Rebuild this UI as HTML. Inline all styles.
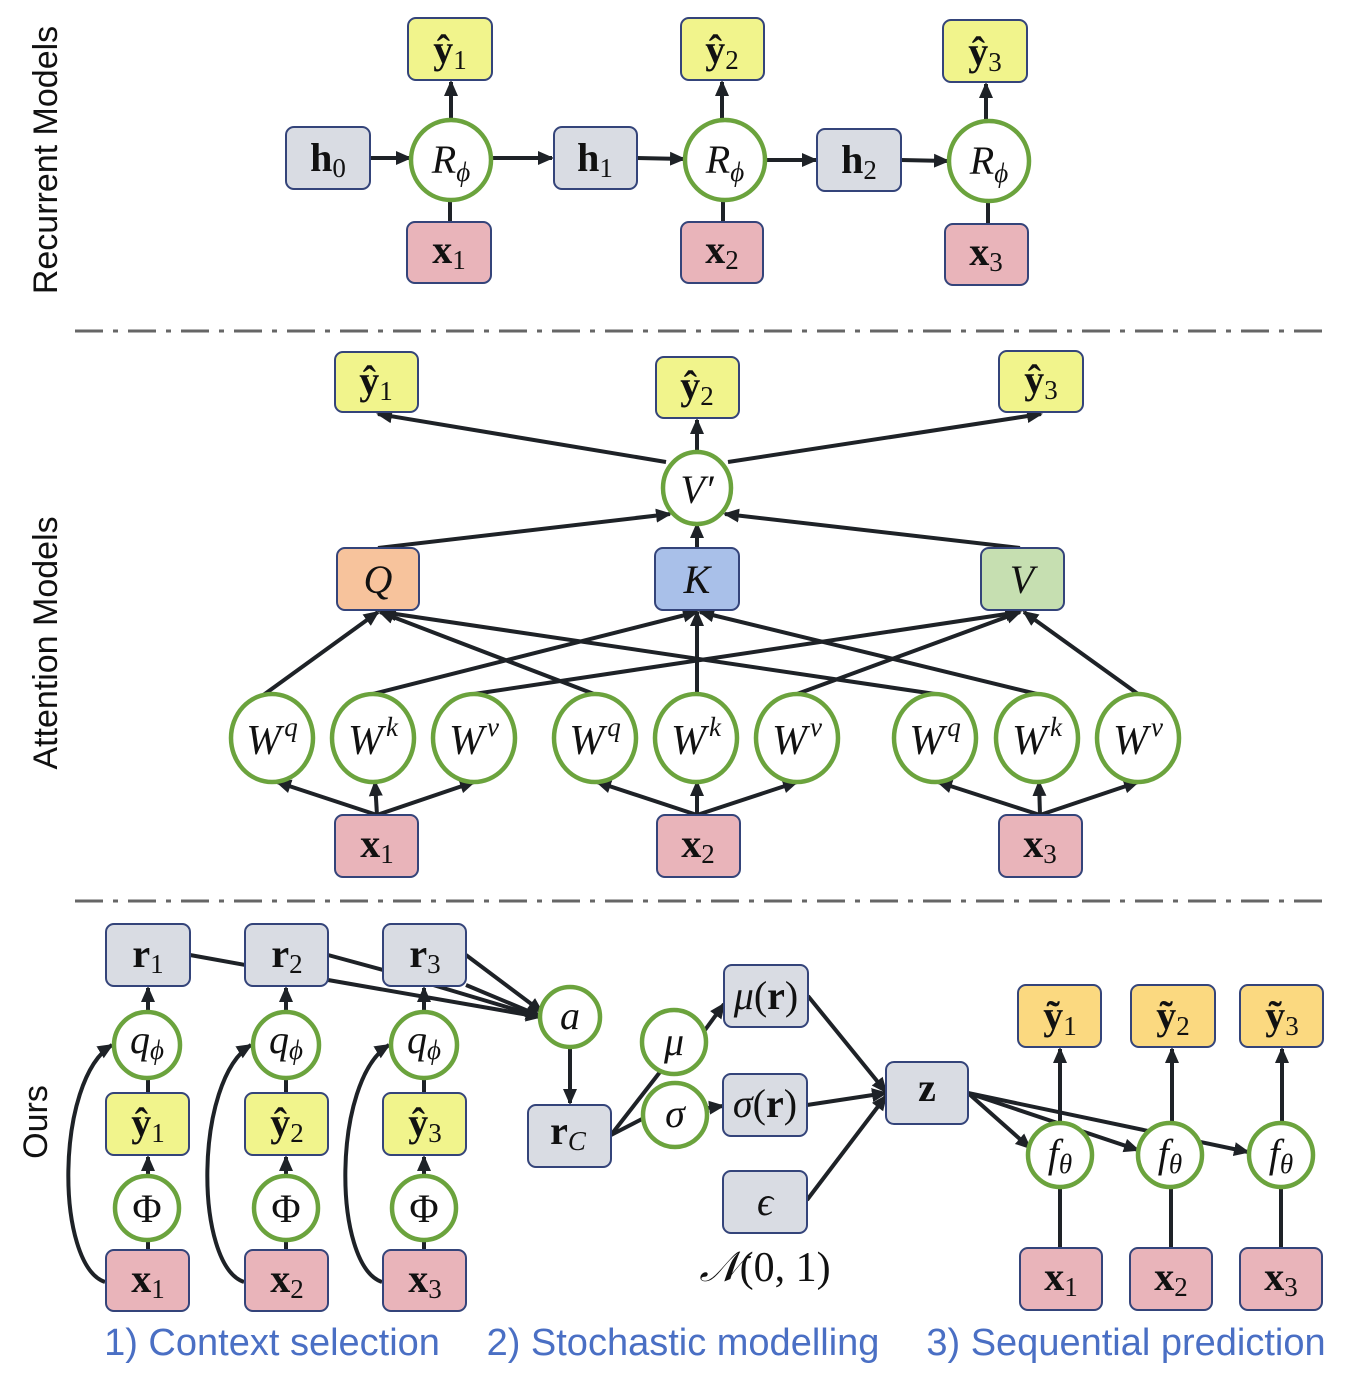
<!DOCTYPE html>
<html><head><meta charset="utf-8"><style>
html,body{margin:0;padding:0;background:#fff}
svg{display:block}
.m{font-family:"Liberation Serif","DejaVu Serif",serif;font-size:40px;fill:#111}
.b{font-weight:bold}
.i{font-style:italic}
.s{font-size:27px;font-weight:normal;font-style:normal}
.si{font-size:27px;font-weight:normal;font-style:italic}
.lab{font-family:"Liberation Sans","DejaVu Sans",sans-serif;font-size:34px;fill:#111}
.cap{font-family:"Liberation Sans","DejaVu Sans",sans-serif;font-size:38px;fill:#4a6fc4}
</style></head><body>
<svg width="1349" height="1376" viewBox="0 0 1349 1376" xmlns="http://www.w3.org/2000/svg">
<defs>
<marker id="A" markerWidth="16" markerHeight="16" refX="14" refY="8" orient="auto" markerUnits="userSpaceOnUse" viewBox="0 0 16 16">
<path d="M0,1 L16,8 L0,15 z" fill="#1e2227"/></marker>
</defs>
<style>
.l{stroke:#1e2227;stroke-width:4;fill:none}
.la{stroke:#1e2227;stroke-width:4;fill:none;marker-end:url(#A)}
.bx{stroke:#34447a;stroke-width:2}
.g{fill:#d9dce3}.y{fill:#f1f48c}.p{fill:#e9b4ba}.t{fill:#fbd980}
.c{fill:#fff;stroke:#6ba33d;stroke-width:4.5}
</style>

<text class="lab" transform="translate(57,160) rotate(-90)" text-anchor="middle">Recurrent Models</text>
<text class="lab" transform="translate(57,643) rotate(-90)" text-anchor="middle">Attention Models</text>
<text class="lab" transform="translate(47,1122) rotate(-90)" text-anchor="middle">Ours</text>

<line x1="75" y1="331" x2="1325" y2="331" stroke="#666" stroke-width="3" stroke-dasharray="28,10,5,10"/>
<line x1="75" y1="901" x2="1325" y2="901" stroke="#666" stroke-width="3" stroke-dasharray="28,10,5,10"/>

<!-- Recurrent -->
<line class="la" x1="370" y1="158" x2="410" y2="158"/>
<line class="la" x1="491" y1="158" x2="552" y2="158"/>
<line class="la" x1="637" y1="158" x2="684" y2="159"/>
<line class="la" x1="765" y1="160" x2="816" y2="160"/>
<line class="la" x1="901" y1="160" x2="948" y2="161"/>
<line class="la" x1="451" y1="118" x2="451" y2="82"/>
<line class="la" x1="722" y1="118" x2="722" y2="82"/>
<line class="la" x1="986" y1="119" x2="986" y2="84"/>
<line class="l" x1="450" y1="200" x2="450" y2="222"/>
<line class="l" x1="723" y1="200" x2="723" y2="222"/>
<line class="l" x1="988" y1="200" x2="988" y2="224"/>

<rect class="bx g" x="286" y="127" width="84" height="62" rx="8"/>
<rect class="bx g" x="554" y="127" width="83" height="62" rx="8"/>
<rect class="bx g" x="817" y="129" width="84" height="62" rx="8"/>
<rect class="bx y" x="408" y="18" width="84" height="62" rx="8"/>
<rect class="bx y" x="681" y="18" width="83" height="62" rx="8"/>
<rect class="bx y" x="943" y="20" width="84" height="62" rx="8"/>
<rect class="bx p" x="407" y="222" width="84" height="61" rx="8"/>
<rect class="bx p" x="681" y="222" width="82" height="61" rx="8"/>
<rect class="bx p" x="945" y="224" width="83" height="61" rx="8"/>
<circle class="c" cx="451" cy="160" r="40"/>
<circle class="c" cx="725" cy="160" r="40"/>
<circle class="c" cx="989" cy="161" r="40"/>

<text class="m b" x="328" y="171" text-anchor="middle">h<tspan class="s" dy="6">0</tspan></text>
<text class="m b" x="595" y="171" text-anchor="middle">h<tspan class="s" dy="6">1</tspan></text>
<text class="m b" x="859" y="173" text-anchor="middle">h<tspan class="s" dy="6">2</tspan></text>
<text class="m b" x="450" y="63" text-anchor="middle">ŷ<tspan class="s" dy="6">1</tspan></text>
<text class="m b" x="722" y="63" text-anchor="middle">ŷ<tspan class="s" dy="6">2</tspan></text>
<text class="m b" x="985" y="65" text-anchor="middle">ŷ<tspan class="s" dy="6">3</tspan></text>
<text class="m b" x="449" y="263" text-anchor="middle">x<tspan class="s" dy="6">1</tspan></text>
<text class="m b" x="722" y="263" text-anchor="middle">x<tspan class="s" dy="6">2</tspan></text>
<text class="m b" x="986" y="265" text-anchor="middle">x<tspan class="s" dy="6">3</tspan></text>
<text class="m i" x="451" y="173" text-anchor="middle">R<tspan class="si" dy="8">ϕ</tspan></text>
<text class="m i" x="725" y="173" text-anchor="middle">R<tspan class="si" dy="8">ϕ</tspan></text>
<text class="m i" x="989" y="174" text-anchor="middle">R<tspan class="si" dy="8">ϕ</tspan></text>

<!-- Attention -->
<line class="la" x1="666" y1="462" x2="378" y2="414"/>
<line class="la" x1="697" y1="452" x2="697" y2="420"/>
<line class="la" x1="728" y1="462" x2="1041" y2="414"/>
<line class="la" x1="378" y1="548" x2="670" y2="514"/>
<line class="la" x1="697" y1="548" x2="697" y2="524"/>
<line class="la" x1="1020" y1="548" x2="725" y2="514"/>

<line class="la" x1="262" y1="696" x2="378" y2="612"/>
<line class="la" x1="373" y1="694" x2="697" y2="612"/>
<line class="la" x1="474" y1="694" x2="1020" y2="612"/>
<line class="la" x1="594" y1="694" x2="380" y2="612"/>
<line class="la" x1="697" y1="694" x2="697" y2="612"/>
<line class="la" x1="797" y1="694" x2="1020" y2="612"/>
<line class="la" x1="935" y1="694" x2="382" y2="612"/>
<line class="la" x1="1037" y1="694" x2="700" y2="612"/>
<line class="la" x1="1138" y1="694" x2="1024" y2="612"/>

<line class="la" x1="377" y1="815" x2="277" y2="782"/>
<line class="la" x1="377" y1="815" x2="375" y2="782"/>
<line class="la" x1="377" y1="815" x2="474" y2="782"/>
<line class="la" x1="697" y1="815" x2="597" y2="782"/>
<line class="la" x1="697" y1="815" x2="697" y2="782"/>
<line class="la" x1="697" y1="815" x2="797" y2="782"/>
<line class="la" x1="1040" y1="815" x2="938" y2="782"/>
<line class="la" x1="1040" y1="815" x2="1039" y2="782"/>
<line class="la" x1="1040" y1="815" x2="1138" y2="782"/>

<rect class="bx y" x="335" y="352" width="83" height="60" rx="8"/>
<rect class="bx y" x="656" y="357" width="83" height="61" rx="8"/>
<rect class="bx y" x="999" y="351" width="84" height="61" rx="8"/>
<ellipse class="c" cx="697" cy="488" rx="34" ry="36"/>
<rect class="bx" style="fill:#f7c39c" x="337" y="548" width="82" height="62" rx="8"/>
<rect class="bx" style="fill:#a9c0e9" x="655" y="548" width="84" height="62" rx="8"/>
<rect class="bx" style="fill:#c6dfb1" x="981" y="548" width="83" height="62" rx="8"/>
<g>
<ellipse class="c" cx="272" cy="738" rx="41" ry="44"/>
<ellipse class="c" cx="373" cy="738" rx="41" ry="44"/>
<ellipse class="c" cx="474" cy="738" rx="41" ry="44"/>
<ellipse class="c" cx="595" cy="738" rx="41" ry="44"/>
<ellipse class="c" cx="696" cy="738" rx="41" ry="44"/>
<ellipse class="c" cx="797" cy="738" rx="41" ry="44"/>
<ellipse class="c" cx="935" cy="738" rx="41" ry="44"/>
<ellipse class="c" cx="1037" cy="738" rx="41" ry="44"/>
<ellipse class="c" cx="1138" cy="738" rx="41" ry="44"/>
</g>
<rect class="bx p" x="335" y="815" width="83" height="62" rx="8"/>
<rect class="bx p" x="657" y="815" width="83" height="62" rx="8"/>
<rect class="bx p" x="999" y="815" width="83" height="62" rx="8"/>

<text class="m b" x="376" y="394" text-anchor="middle">ŷ<tspan class="s" dy="6">1</tspan></text>
<text class="m b" x="697" y="399" text-anchor="middle">ŷ<tspan class="s" dy="6">2</tspan></text>
<text class="m b" x="1041" y="393" text-anchor="middle">ŷ<tspan class="s" dy="6">3</tspan></text>
<text class="m i" x="697" y="503" text-anchor="middle">V′</text>
<text class="m i" x="378" y="593" text-anchor="middle">Q</text>
<text class="m i" x="697" y="593" text-anchor="middle">K</text>
<text class="m i" x="1022" y="593" text-anchor="middle">V</text>
<g class="m i" text-anchor="middle" style="font-size:42px">
<text x="272" y="754">W<tspan class="si" dx="3" dy="-18">q</tspan></text>
<text x="373" y="754">W<tspan class="si" dx="3" dy="-18">k</tspan></text>
<text x="474" y="754">W<tspan class="si" dx="3" dy="-18">v</tspan></text>
<text x="595" y="754">W<tspan class="si" dx="3" dy="-18">q</tspan></text>
<text x="696" y="754">W<tspan class="si" dx="3" dy="-18">k</tspan></text>
<text x="797" y="754">W<tspan class="si" dx="3" dy="-18">v</tspan></text>
<text x="935" y="754">W<tspan class="si" dx="3" dy="-18">q</tspan></text>
<text x="1037" y="754">W<tspan class="si" dx="3" dy="-18">k</tspan></text>
<text x="1138" y="754">W<tspan class="si" dx="3" dy="-18">v</tspan></text>
</g>
<text class="m b" x="377" y="857" text-anchor="middle">x<tspan class="s" dy="6">1</tspan></text>
<text class="m b" x="698" y="857" text-anchor="middle">x<tspan class="s" dy="6">2</tspan></text>
<text class="m b" x="1040" y="857" text-anchor="middle">x<tspan class="s" dy="6">3</tspan></text>

<!-- Ours -->
<line class="l" x1="190" y1="955" x2="328" y2="980"/>
<line class="la" x1="328" y1="980" x2="540" y2="1017"/>
<line class="l" x1="328" y1="955" x2="383" y2="970"/>
<line class="la" x1="383" y1="970" x2="540" y2="1017"/>
<line class="la" x1="466" y1="985" x2="540" y2="1016"/>
<line class="la" x1="466" y1="955" x2="542" y2="1012"/>

<line class="la" x1="148" y1="1012" x2="148" y2="988"/>
<line class="la" x1="286" y1="1012" x2="286" y2="988"/>
<line class="la" x1="424" y1="1012" x2="424" y2="988"/>
<line class="l" x1="148" y1="1078" x2="148" y2="1093"/>
<line class="l" x1="286" y1="1078" x2="286" y2="1093"/>
<line class="l" x1="424" y1="1078" x2="424" y2="1093"/>
<line class="la" x1="148" y1="1176" x2="148" y2="1157"/>
<line class="la" x1="286" y1="1176" x2="286" y2="1157"/>
<line class="la" x1="424" y1="1176" x2="424" y2="1157"/>
<line class="l" x1="148" y1="1240" x2="148" y2="1250"/>
<line class="l" x1="286" y1="1240" x2="286" y2="1250"/>
<line class="l" x1="424" y1="1240" x2="424" y2="1250"/>
<path class="la" d="M105,1282 C55,1265 55,1080 112,1045"/>
<path class="la" d="M244,1282 C194,1265 194,1080 251,1045"/>
<path class="la" d="M382,1282 C332,1265 332,1080 389,1045"/>

<line class="la" x1="570" y1="1048" x2="570" y2="1103"/>
<line class="l" x1="611" y1="1135" x2="660" y2="1072"/>
<line class="l" x1="611" y1="1135" x2="644" y2="1118"/>
<line class="la" x1="705" y1="1030" x2="724" y2="1004"/>
<line class="la" x1="707" y1="1108" x2="723" y2="1106"/>
<line class="la" x1="808" y1="996" x2="886" y2="1092"/>
<line class="la" x1="807" y1="1105" x2="886" y2="1093"/>
<line class="la" x1="807" y1="1200" x2="886" y2="1096"/>

<line class="la" x1="968" y1="1093" x2="1030" y2="1148"/>
<line class="la" x1="968" y1="1093" x2="1138" y2="1150"/>
<line class="la" x1="968" y1="1093" x2="1248" y2="1152"/>
<line class="la" x1="1060" y1="1123" x2="1060" y2="1049"/>
<line class="la" x1="1172" y1="1123" x2="1172" y2="1049"/>
<line class="la" x1="1282" y1="1123" x2="1282" y2="1049"/>
<line class="l" x1="1060" y1="1187" x2="1060" y2="1248"/>
<line class="l" x1="1171" y1="1187" x2="1171" y2="1248"/>
<line class="l" x1="1281" y1="1187" x2="1281" y2="1248"/>

<rect class="bx g" x="106" y="924" width="84" height="62" rx="8"/>
<rect class="bx g" x="245" y="924" width="83" height="62" rx="8"/>
<rect class="bx g" x="383" y="924" width="83" height="62" rx="8"/>
<circle class="c" cx="147" cy="1045" r="33"/>
<circle class="c" cx="286" cy="1045" r="33"/>
<circle class="c" cx="424" cy="1045" r="33"/>
<rect class="bx y" x="106" y="1093" width="83" height="62" rx="8"/>
<rect class="bx y" x="245" y="1093" width="83" height="62" rx="8"/>
<rect class="bx y" x="383" y="1093" width="83" height="62" rx="8"/>
<circle class="c" cx="147" cy="1208" r="32"/>
<circle class="c" cx="286" cy="1208" r="32"/>
<circle class="c" cx="424" cy="1208" r="32"/>
<rect class="bx p" x="106" y="1250" width="83" height="61" rx="8"/>
<rect class="bx p" x="245" y="1250" width="83" height="61" rx="8"/>
<rect class="bx p" x="383" y="1250" width="83" height="61" rx="8"/>

<circle class="c" cx="570" cy="1017" r="30"/>
<rect class="bx g" x="528" y="1105" width="83" height="62" rx="8"/>
<circle class="c" cx="674" cy="1042" r="32"/>
<circle class="c" cx="675" cy="1115" r="32"/>
<rect class="bx g" x="724" y="965" width="84" height="62" rx="8"/>
<rect class="bx g" x="723" y="1074" width="84" height="62" rx="8"/>
<rect class="bx g" x="723" y="1171" width="84" height="62" rx="8"/>
<rect class="bx g" x="886" y="1062" width="82" height="62" rx="8"/>

<rect class="bx t" x="1018" y="985" width="83" height="62" rx="8"/>
<rect class="bx t" x="1131" y="985" width="84" height="62" rx="8"/>
<rect class="bx t" x="1240" y="985" width="83" height="62" rx="8"/>
<circle class="c" cx="1060" cy="1155" r="32"/>
<circle class="c" cx="1170" cy="1155" r="32"/>
<circle class="c" cx="1281" cy="1155" r="32"/>
<rect class="bx p" x="1020" y="1248" width="82" height="62" rx="8"/>
<rect class="bx p" x="1130" y="1248" width="82" height="62" rx="8"/>
<rect class="bx p" x="1240" y="1248" width="82" height="62" rx="8"/>

<text class="m b" x="148" y="967" text-anchor="middle">r<tspan class="s" dy="6">1</tspan></text>
<text class="m b" x="287" y="967" text-anchor="middle">r<tspan class="s" dy="6">2</tspan></text>
<text class="m b" x="425" y="967" text-anchor="middle">r<tspan class="s" dy="6">3</tspan></text>
<text class="m i" x="147" y="1053" text-anchor="middle">q<tspan class="si" dy="6">ϕ</tspan></text>
<text class="m i" x="286" y="1053" text-anchor="middle">q<tspan class="si" dy="6">ϕ</tspan></text>
<text class="m i" x="424" y="1053" text-anchor="middle">q<tspan class="si" dy="6">ϕ</tspan></text>
<text class="m b" x="148" y="1136" text-anchor="middle">ŷ<tspan class="s" dy="6">1</tspan></text>
<text class="m b" x="287" y="1136" text-anchor="middle">ŷ<tspan class="s" dy="6">2</tspan></text>
<text class="m b" x="425" y="1136" text-anchor="middle">ŷ<tspan class="s" dy="6">3</tspan></text>
<text class="m" x="147" y="1222" text-anchor="middle">Φ</text>
<text class="m" x="286" y="1222" text-anchor="middle">Φ</text>
<text class="m" x="424" y="1222" text-anchor="middle">Φ</text>
<text class="m b" x="148" y="1292" text-anchor="middle">x<tspan class="s" dy="6">1</tspan></text>
<text class="m b" x="287" y="1292" text-anchor="middle">x<tspan class="s" dy="6">2</tspan></text>
<text class="m b" x="425" y="1292" text-anchor="middle">x<tspan class="s" dy="6">3</tspan></text>

<text class="m i" x="570" y="1029" text-anchor="middle">a</text>
<text class="m b" x="568" y="1144" text-anchor="middle">r<tspan class="si" dy="6">C</tspan></text>
<text class="m i" x="674" y="1055" text-anchor="middle">μ</text>
<text class="m i" x="675" y="1127" text-anchor="middle">σ</text>
<text class="m" x="766" y="1009" text-anchor="middle"><tspan class="i">μ</tspan>(<tspan class="b">r</tspan>)</text>
<text class="m" x="765" y="1117" text-anchor="middle"><tspan class="i">σ</tspan>(<tspan class="b">r</tspan>)</text>
<text class="m i" x="765" y="1215" text-anchor="middle">ϵ</text>
<text class="m" x="765" y="1281" text-anchor="middle" style="font-size:42px"><tspan class="i">𝒩</tspan>(0, 1)</text>
<text class="m b" x="927" y="1101" text-anchor="middle">z</text>

<text class="m b" x="1060" y="1029" text-anchor="middle">ỹ<tspan class="s" dy="6">1</tspan></text>
<text class="m b" x="1173" y="1029" text-anchor="middle">ỹ<tspan class="s" dy="6">2</tspan></text>
<text class="m b" x="1282" y="1029" text-anchor="middle">ỹ<tspan class="s" dy="6">3</tspan></text>
<text class="m i" x="1060" y="1167" text-anchor="middle">f<tspan class="si" dy="6">θ</tspan></text>
<text class="m i" x="1170" y="1167" text-anchor="middle">f<tspan class="si" dy="6">θ</tspan></text>
<text class="m i" x="1281" y="1167" text-anchor="middle">f<tspan class="si" dy="6">θ</tspan></text>
<text class="m b" x="1061" y="1290" text-anchor="middle">x<tspan class="s" dy="6">1</tspan></text>
<text class="m b" x="1171" y="1290" text-anchor="middle">x<tspan class="s" dy="6">2</tspan></text>
<text class="m b" x="1281" y="1290" text-anchor="middle">x<tspan class="s" dy="6">3</tspan></text>

<text class="cap" x="272" y="1355" text-anchor="middle">1) Context selection</text>
<text class="cap" x="683" y="1355" text-anchor="middle">2) Stochastic modelling</text>
<text class="cap" x="1126" y="1355" text-anchor="middle">3) Sequential prediction</text>
</svg>
</body></html>
